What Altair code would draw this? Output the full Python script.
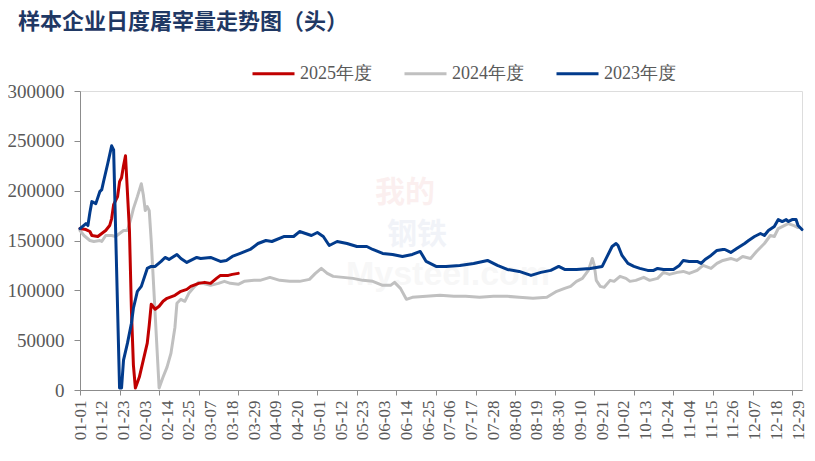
import altair as alt
import pandas as pd

# ---------------- data ----------------
title_text = "样本企业日度屠宰量走势图（头）"
tick_labels = ["01-01", "01-12", "01-23", "02-03", "02-14", "02-25", "03-07", "03-18",
               "03-29", "04-09", "04-20", "05-01", "05-12", "05-23", "06-03", "06-14",
               "06-25", "07-06", "07-17", "07-28", "08-08", "08-19", "08-30", "09-10",
               "09-21", "10-02", "10-13", "10-24", "11-04", "11-15", "11-26", "12-07",
               "12-18", "12-29"]
y_ticks = [0, 50000, 100000, 150000, 200000, 250000, 300000]
series_names = ["2025年度", "2024年度", "2023年度"]
series_colors = ["#C00000", "#C0C0C0", "#023B8C"]

# day index (0 = 01-01) and daily slaughter (head)
days_2025 = [0, 3, 5, 6, 9, 11, 13, 15, 16, 17, 19, 20, 21, 22, 23, 25, 26, 27, 28, 30,
             32, 34, 35, 36, 38, 40, 42, 44, 48, 51, 54, 56, 60, 63, 66, 69, 71, 75, 77, 80]
vals_2025 = [162000, 161000, 159000, 155000, 154000, 157000, 160000, 165000, 172000, 186000,
             194000, 209000, 213000, 225000, 235000, 160000, 80000, 25000, 2000, 13000,
             30000, 47000, 65000, 86000, 81000, 84000, 89000, 92000, 95000, 99000,
             101000, 104000, 107000, 108000, 107000, 112000, 115000, 115000, 116000, 117000]

days_2024 = [0, 2, 5, 7, 10, 11, 13, 16, 18, 20, 22, 24, 26, 27, 29, 31, 32, 33, 34, 35,
             36, 40, 42, 44, 46, 48, 49, 51, 53, 55, 58, 60, 64, 66, 70, 73, 76, 80, 83, 88,
             91, 96, 101, 106, 111, 116, 119, 122, 125, 128, 133, 138, 143, 148, 153, 157, 159, 162,
             165, 168, 175, 182, 189, 195, 202, 209, 216, 222, 229, 236, 241, 245, 248, 251,
             254, 257, 259, 260, 261, 263, 265, 268, 270, 273, 276, 278, 281, 285, 288, 292,
             295, 298, 302, 305, 308, 312, 315, 319, 322, 325, 329, 332, 335, 339, 342, 346,
             349, 351, 353, 356, 358, 361, 363]
vals_2024 = [160000, 155000, 150000, 149000, 150000, 149000, 155000, 155000, 154000, 157000,
             160000, 160000, 174000, 182000, 194000, 207000, 196000, 180000, 184000, 180000,
             150000, 2000, 13000, 23000, 37000, 63000, 87000, 91000, 89000, 97000,
             104000, 108000, 106000, 105000, 107000, 109000, 107000, 106000, 109000, 110000,
             110000, 113000, 110000, 109000, 109000, 111000, 117000, 122000, 117000, 114000,
             113000, 112000, 110000, 109000, 105000, 105000, 108000, 102000,
             91000, 93000, 94000, 95000, 94000, 94000, 93000, 94000, 94000, 93000, 92000, 93000,
             99000, 102000, 104000, 109000, 112000, 120000, 132000, 125000, 110000, 104000,
             103000, 110000, 109000, 114000, 112000, 109000, 110000, 113000, 110000, 112000,
             118000, 116000, 118000, 119000, 117000, 120000, 125000, 122000, 127000, 130000,
             132000, 130000, 134000, 132000, 139000, 147000, 155000, 154000, 162000, 165000,
             167000, 165000, 163000]

days_2023 = [0, 3, 4, 5, 6, 8, 10, 11, 12, 14, 16, 17, 20, 21, 22, 24, 26, 27, 29, 31,
             34, 36, 38, 41, 43, 45, 49, 51, 54, 59, 61, 66, 71, 74, 77, 81, 86, 90, 94, 97,
             103, 108, 111, 114, 117, 120, 123, 126, 130, 135, 140, 145, 148, 153, 158, 163,
             168, 172, 175, 180, 185, 192, 199, 206, 211, 216, 222, 228, 233, 238, 242, 245,
             251, 258, 264, 266, 269, 271, 272, 274, 277, 280, 283, 287, 290, 292, 295, 300,
             303, 305, 308, 312, 314, 316, 319, 322, 325, 326, 329, 332, 336, 338, 341, 344,
             346, 348, 351, 353, 355, 357, 358, 360, 362, 363, 365]
vals_2023 = [162000, 167000, 165000, 178000, 189000, 187000, 199000, 201000, 210000, 227000,
             245000, 241000, 2000, 2000, 30000, 47000, 67000, 82000, 99000, 104000,
             122000, 124000, 124000, 129000, 133000, 131000, 136000, 132000, 128000, 133000,
             132000, 133000, 129000, 130000, 134000, 137000, 141000, 147000, 150000, 149000,
             154000, 154000, 159000, 157000, 155000, 158000, 154000, 145000, 149000, 147000,
             144000, 144000, 141000, 137000, 136000, 134000, 136000, 139000, 129000, 124000,
             124000, 125000, 127000, 130000, 125000, 121000, 119000, 115000, 118000, 120000,
             124000, 121000, 121000, 122000, 124000, 132000, 144000, 147000, 145000, 135000,
             127000, 124000, 122000, 120000, 120000, 122000, 121000, 121000, 125000, 130000,
             129000, 129000, 127000, 131000, 135000, 140000, 141000, 141000, 138000, 142000,
             147000, 150000, 154000, 157000, 155000, 160000, 164000, 171000, 169000, 171000,
             169000, 171000, 171000, 165000, 161000]


def frame(name, days, vals):
    return pd.DataFrame({"day": days, "value": vals, "series": name})


df25 = frame(series_names[0], days_2025, vals_2025)
df24 = frame(series_names[1], days_2024, vals_2024)
df23 = frame(series_names[2], days_2023, vals_2023)

# ---------------- styling ----------------
W, H = 722, 299
AXIS_COLOR = "#8C8C8C"
LABEL_COLOR = "#595959"
SERIF = "Liberation Serif"

label_days = [11 * i for i in range(len(tick_labels))]
major_tick_days = list(range(0, 366, 20))
label_expr = "[" + ",".join("'" + s + "'" for s in tick_labels) + "][round(datum.value / 11)]"

x_scale = alt.Scale(domain=[0, 365], nice=False, zero=False)
y_scale = alt.Scale(domain=[0, 300000], nice=False)

y_axis = alt.Axis(values=y_ticks, format="d", title=None, grid=False,
                  domainColor=AXIS_COLOR, tickColor=AXIS_COLOR, tickSize=6,
                  labelFont=SERIF, labelFontSize=19, labelColor=LABEL_COLOR,
                  labelPadding=10)

color = alt.Color(
    "series:N",
    scale=alt.Scale(domain=series_names, range=series_colors),
    legend=alt.Legend(title=None, orient="none", legendX=171, legendY=-40,
                      direction="horizontal", symbolType="stroke", symbolSize=1764,
                      symbolStrokeWidth=3, labelFont=SERIF, labelFontSize=18,
                      labelColor=LABEL_COLOR, labelOffset=4, columnPadding=26),
)

line_kw = dict(strokeWidth=3, strokeJoin="round", strokeCap="round")

# gray 2024 layer carries the tick-mark axis (every 20 days)
l24 = alt.Chart(df24).mark_line(**line_kw).encode(
    x=alt.X("day:Q", scale=x_scale,
            axis=alt.Axis(orient="bottom", values=major_tick_days, labels=False, ticks=True,
                          tickSize=5, tickColor=AXIS_COLOR, domainColor=AXIS_COLOR,
                          grid=False, title=None)),
    y=alt.Y("value:Q", scale=y_scale, axis=y_axis),
    color=color,
)

# red 2025 layer carries the label axis (every 11 days)
l25 = alt.Chart(df25).mark_line(**line_kw).encode(
    x=alt.X("day:Q", scale=x_scale,
            axis=alt.Axis(orient="bottom", values=label_days, labelExpr=label_expr,
                          labelAngle=270, ticks=False, domain=False, grid=False,
                          labelFont=SERIF, labelFontSize=17, labelColor=LABEL_COLOR,
                          labelPadding=10, labelOverlap=False, title=None)),
    y=alt.Y("value:Q", scale=y_scale, axis=y_axis),
    color=color,
)

l23 = alt.Chart(df23).mark_line(**line_kw).encode(
    x=alt.X("day:Q", scale=x_scale, axis=None),
    y=alt.Y("value:Q", scale=y_scale, axis=y_axis),
    color=color,
)

# chart title (text mark in the top padding)
title_df = pd.DataFrame({"t": [title_text]})
title_mark = alt.Chart(title_df).mark_text(
    font="Noto Sans CJK SC", fontSize=22, fontWeight="bold", color="#1F3864",
    align="left", baseline="middle"
).encode(text="t:N", x=alt.value(-62), y=alt.value(-69))

# faint watermark
wm_data = pd.DataFrame({"t": ["我的", "钢铁", "Mysteel.com"]})
wm1 = alt.Chart(wm_data).transform_filter("datum.t == '我的'").mark_text(
    font="Noto Sans CJK SC", fontSize=30, fontWeight="bold", color="#C00000", opacity=0.06
).encode(text="t:N", x=alt.value(325), y=alt.value(102))
wm2 = alt.Chart(wm_data).transform_filter("datum.t == '钢铁'").mark_text(
    font="Noto Sans CJK SC", fontSize=30, fontWeight="bold", color="#1F4E9A", opacity=0.06
).encode(text="t:N", x=alt.value(337), y=alt.value(144))
wm3 = alt.Chart(wm_data).transform_filter("datum.t == 'Mysteel.com'").mark_text(
    font="Liberation Sans", fontSize=34, fontWeight="bold", color="#7F7F7F", opacity=0.06
).encode(text="t:N", x=alt.value(368), y=alt.value(184))

chart = alt.layer(title_mark, wm1, wm2, wm3, l24, l25, l23).resolve_axis(
    x="independent"
).properties(
    width=W, height=H,
    autosize=alt.AutoSizeParams(type="none"),
    padding={"left": 72, "top": 83, "right": 5, "bottom": 60},
).configure_view(stroke=None).configure(background="white")

chart.save("out.html", embed_options={"renderer": "svg", "actions": False})
